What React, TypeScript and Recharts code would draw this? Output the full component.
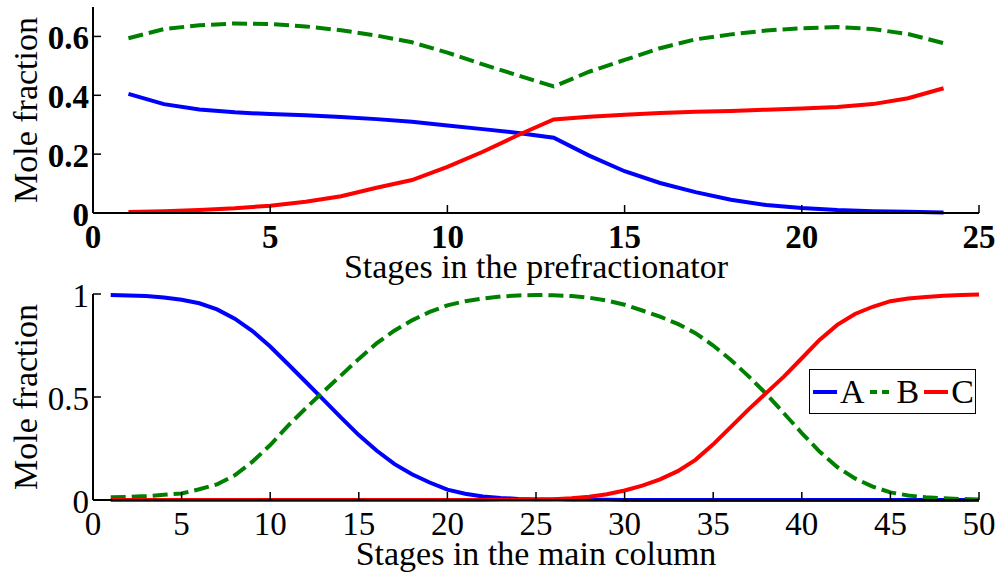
import React from 'react'
import { LineChart, Line, XAxis, YAxis, Legend } from 'recharts'

// prefractionator profile (stages 1..24)
const preStages = [1, 2, 3, 4, 5, 6, 7, 8, 9, 10, 11, 12, 13, 14, 15, 16, 17, 18, 19, 20, 21, 22, 23, 24]
const preA = [0.405, 0.37, 0.352, 0.342, 0.336, 0.332, 0.326, 0.319, 0.31, 0.297, 0.285, 0.272, 0.256, 0.195, 0.142, 0.102, 0.071, 0.045, 0.027, 0.017, 0.01, 0.006, 0.004, 0.002]
const preB = [0.594, 0.625, 0.638, 0.644, 0.642, 0.634, 0.621, 0.603, 0.58, 0.545, 0.505, 0.467, 0.43, 0.48, 0.52, 0.56, 0.59, 0.607, 0.62, 0.628, 0.632, 0.625, 0.608, 0.577]
const preC = [0.003, 0.006, 0.01, 0.016, 0.025, 0.038, 0.057, 0.086, 0.112, 0.157, 0.208, 0.265, 0.318, 0.327, 0.334, 0.34, 0.344, 0.347, 0.351, 0.355, 0.36, 0.37, 0.39, 0.424]
const preXTicks = [0, 5, 10, 15, 20, 25]
const preYTicks = [0, 0.2, 0.4, 0.6]

// main column profile (stages 1..50)
const mainStages = [1, 2, 3, 4, 5, 6, 7, 8, 9, 10, 11, 12, 13, 14, 15, 16, 17, 18, 19, 20, 21, 22, 23, 24, 25, 26, 27, 28, 29, 30, 31, 32, 33, 34, 35, 36, 37, 38, 39, 40, 41, 42, 43, 44, 45, 46, 47, 48, 49, 50]
const mainA = [0.995, 0.993, 0.99, 0.983, 0.972, 0.955, 0.925, 0.88, 0.82, 0.745, 0.66, 0.574, 0.487, 0.4, 0.315, 0.24, 0.175, 0.125, 0.085, 0.05, 0.03, 0.017, 0.01, 0.005, 0.003, 0.002, 0.001, 0.001, 0.001, 0, 0, 0, 0, 0, 0, 0, 0, 0, 0, 0, 0, 0, 0, 0, 0, 0, 0, 0, 0, 0]
const mainB = [0.013, 0.015, 0.019, 0.025, 0.032, 0.052, 0.076, 0.12, 0.186, 0.267, 0.36, 0.445, 0.526, 0.605, 0.685, 0.76, 0.822, 0.872, 0.913, 0.945, 0.965, 0.978, 0.988, 0.993, 0.995, 0.994, 0.99, 0.982, 0.968, 0.948, 0.92, 0.89, 0.855, 0.81, 0.75, 0.68, 0.6, 0.515, 0.42, 0.325, 0.235, 0.16, 0.105, 0.065, 0.037, 0.022, 0.013, 0.008, 0.005, 0.003]
const mainC = [0, 0, 0, 0, 0, 0, 0, 0, 0, 0, 0, 0, 0, 0, 0, 0, 0, 0, 0, 0, 0, 0, 0.001, 0.001, 0.002, 0.004, 0.008, 0.016, 0.028, 0.046, 0.07, 0.1, 0.14, 0.195, 0.27, 0.355, 0.44, 0.52, 0.6, 0.688, 0.777, 0.85, 0.903, 0.938, 0.965, 0.978, 0.986, 0.991, 0.995, 0.997]
const mainXTicks = [0, 5, 10, 15, 20, 25, 30, 35, 40, 45, 50]
const mainYTicks = [0, 0.5, 1]

const seriesNames = ['A', 'B', 'C']
const seriesColors = ['#0000ff', '#008000', '#ff0000']

const preData = preStages.map((s, i) => ({ stage: s, A: preA[i], B: preB[i], C: preC[i] }))
const mainData = mainStages.map((s, i) => ({ stage: s, A: mainA[i], B: mainB[i], C: mainC[i] }))

const FONT = "'Liberation Serif', 'Times New Roman', serif"
const txt = (bold?: boolean, size: number = 33) => ({ fontFamily: FONT, fontSize: size, fontWeight: bold ? 700 : 400 })

const BottomTick = ({ x, y, payload, bold }: any) => (
  <g>
    <line x1={x} x2={x} y1={y} y2={y - 8} stroke="#000" strokeWidth={1.5} />
    <text x={x} y={y + 35} textAnchor="middle" style={txt(bold)} fill="#000">{payload.value}</text>
  </g>
)

const LeftTick = ({ x, y, payload, bold }: any) => (
  <g>
    <line x1={x} x2={x + 8} y1={y} y2={y} stroke="#000" strokeWidth={1.5} />
    <text x={x - 4} y={y + 13} textAnchor="end" style={txt(bold)} fill="#000">{payload.value}</text>
  </g>
)

const TopTick = ({ x, y }: any) => (
  <line x1={x} x2={x} y1={y} y2={y + 8} stroke="#000" strokeWidth={1.5} />
)

const RightTick = ({ x, y }: any) => (
  <line x1={x} x2={x - 8} y1={y} y2={y} stroke="#000" strokeWidth={1.5} />
)

const xLabel = (text: string) => (props: any) => {
  const vb = props.viewBox
  return (
    <text x={vb.x + vb.width / 2} y={vb.y + 65} textAnchor="middle" style={txt(false, 34)} fill="#000">{text}</text>
  )
}

const yLabel = (props: any) => {
  const vb = props.viewBox
  const cy = vb.y + vb.height / 2
  return (
    <text x={37} y={cy} transform={`rotate(-90 37 ${cy})`} textAnchor="middle"
      style={txt(false, 34)} fill="#000">Mole fraction</text>
  )
}

const LegendBox = () => (
  <div style={{
    display: 'flex', alignItems: 'center', height: 45, width: 167, boxSizing: 'border-box',
    border: '1.5px solid #000', background: '#fff', paddingLeft: 3,
    fontFamily: FONT, fontSize: 34, lineHeight: '34px', color: '#000'
  }}>
    {seriesNames.map((n, i) => (
      <div key={n} style={{ display: 'flex', alignItems: 'center', marginRight: i < 2 ? 5 : 0 }}>
        <svg width={24} height={6} style={{ marginRight: 3 }}>
          <line x1={0} y1={3} x2={24} y2={3} stroke={seriesColors[i]} strokeWidth={4}
            strokeDasharray={i === 1 ? '7 5' : undefined} />
        </svg>
        <span>{n}</span>
      </div>
    ))}
  </div>
)

function Panel({ data, height, marginTop, xMax, xTicks, yMax, yTicks, bold, xTitle, legend }: any) {
  return (
    <LineChart width={1001} height={height} data={data}
      margin={{ top: marginTop, right: 22, bottom: 0, left: 0 }}>
      <XAxis xAxisId="b" dataKey="stage" type="number" domain={[0, xMax]} ticks={xTicks}
        interval={0} height={height - marginTop - 206} tickSize={0} tickMargin={0}
        axisLine={{ stroke: '#000', strokeWidth: 2 }} tickLine={false}
        tick={(p: any) => <BottomTick {...p} bold={bold} />} label={xLabel(xTitle)} />
      <XAxis xAxisId="t" orientation="top" dataKey="stage" type="number" domain={[0, xMax]}
        ticks={xTicks} interval={0} height={0} tickSize={0} tickMargin={0}
        axisLine={{ stroke: '#000', strokeWidth: 2 }} tickLine={false} tick={TopTick} />
      <YAxis yAxisId="l" type="number" domain={[0, yMax]} ticks={yTicks} interval={0}
        width={93} tickSize={0} tickMargin={0} axisLine={{ stroke: '#000', strokeWidth: 2 }}
        tickLine={false} tick={(p: any) => <LeftTick {...p} bold={bold} />} label={yLabel} />
      <YAxis yAxisId="r" orientation="right" type="number" domain={[0, yMax]} ticks={yTicks}
        interval={0} width={0} tickSize={0} tickMargin={0}
        axisLine={{ stroke: '#000', strokeWidth: 2 }} tickLine={false} tick={RightTick} />
      {seriesNames.map((n, i) => (
        <Line key={n} xAxisId="b" yAxisId="l" type="linear" dataKey={n} name={n}
          stroke={seriesColors[i]} strokeWidth={4} dot={false}
          strokeDasharray={i === 1 ? '15 6' : undefined} isAnimationActive={false} />
      ))}
      {legend && (
        <Legend layout="horizontal" verticalAlign="middle" align="center"
          wrapperStyle={{ left: 809, top: 84, width: 167, height: 45 }} content={LegendBox} />
      )}
    </LineChart>
  )
}

export default function App() {
  return (
    <div style={{ position: 'absolute', left: 0, top: 0, width: 1001, height: 573, background: '#fff', overflow: 'hidden' }}>
      <Panel data={preData} height={285} marginTop={7} xMax={25} xTicks={preXTicks}
        yMax={0.7} yTicks={preYTicks} bold xTitle="Stages in the prefractionator" />
      <Panel data={mainData} height={288} marginTop={9} xMax={50} xTicks={mainXTicks}
        yMax={1} yTicks={mainYTicks} bold={false} xTitle="Stages in the main column" legend />
    </div>
  )
}
